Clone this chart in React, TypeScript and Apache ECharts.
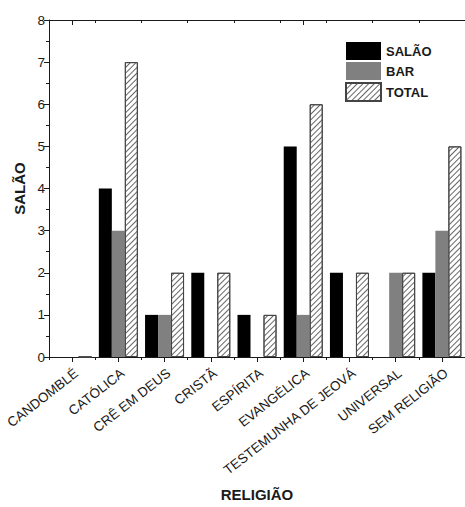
import React, { useEffect, useRef } from "react";
import * as echarts from "echarts";

const categories = [
  "CANDOMBLÉ",
  "CATÓLICA",
  "CRÊ EM DEUS",
  "CRISTÃ",
  "ESPÍRITA",
  "EVANGÉLICA",
  "TESTEMUNHA DE JEOVÁ",
  "UNIVERSAL",
  "SEM RELIGIÃO",
];
const salao = [0, 4, 1, 2, 1, 5, 2, 0, 2];
const bar = [0, 3, 1, 0, 0, 1, 0, 2, 3];
const total = [0, 7, 2, 2, 1, 6, 2, 2, 5];
const yTicks = [0, 1, 2, 3, 4, 5, 6, 7, 8];

const FONT = "'Liberation Sans', Arial, sans-serif";
const INK = "#1a1a1a";

export default function App() {
  const ref = useRef<HTMLDivElement>(null);
  useEffect(() => {
    if (!ref.current) return;
    const chart = echarts.init(ref.current, undefined, { renderer: "svg" });
    const lineStyle = { color: INK, width: 1 };
    chart.setOption({
      animation: false,
      backgroundColor: "#ffffff",
      textStyle: { fontFamily: FONT },
      grid: { left: 49, top: 20, bottom: 149, right: -7, containLabel: false },
      legend: {
        orient: "vertical",
        left: 345,
        top: 42,
        padding: 0,
        itemWidth: 35,
        itemHeight: 18,
        itemGap: 2,
        icon: "rect",
        textStyle: { fontFamily: FONT, fontWeight: "bold", fontSize: 13, color: INK },
        data: ["SALÃO", "BAR", "TOTAL"],
      },
      xAxis: [
        {
          type: "category",
          position: "bottom",
          data: categories,
          boundaryGap: true,
          axisLine: { show: true, lineStyle },
          axisTick: { show: true, alignWithLabel: true, length: 5, lineStyle },
          axisLabel: {
            interval: 0,
            rotate: 38,
            fontSize: 13.5,
            color: INK,
            fontFamily: FONT,
            margin: 9,
            verticalAlign: "top",
          },
          splitLine: { show: false },
          name: "RELIGIÃO",
          nameLocation: "middle",
          nameGap: 130,
          nameTextStyle: { fontFamily: FONT, fontWeight: "bold", fontSize: 15, color: INK },
        },
        {
          type: "value",
          position: "bottom",
          min: 0,
          max: 9,
          interval: 1,
          axisLine: { show: false },
          axisTick: { show: true, length: 3, lineStyle },
          axisLabel: { show: false },
          splitLine: { show: false },
        },
        {
          type: "category",
          position: "top",
          data: categories,
          axisLine: { show: true, lineStyle },
          axisTick: { show: true, inside: true, alignWithLabel: true, length: 5, lineStyle },
          axisLabel: { show: false },
          splitLine: { show: false },
        },
        {
          type: "value",
          position: "top",
          min: 0,
          max: 9,
          interval: 1,
          axisLine: { show: false },
          axisTick: { show: true, inside: true, length: 3, lineStyle },
          axisLabel: { show: false },
          splitLine: { show: false },
        },
      ],
      yAxis: {
        type: "value",
        min: yTicks[0],
        max: yTicks[yTicks.length - 1],
        interval: 1,
        axisLine: { show: true, lineStyle },
        axisTick: { show: true, length: 5, lineStyle },
        minorTick: { show: true, splitNumber: 2, length: 3, lineStyle },
        axisLabel: { fontSize: 13.5, color: INK, fontFamily: FONT, margin: 4 },
        splitLine: { show: false },
        minorSplitLine: { show: false },
        name: "SALÃO",
        nameLocation: "middle",
        nameGap: 22,
        nameTextStyle: { fontFamily: FONT, fontWeight: "bold", fontSize: 15, color: INK },
      },
      series: [
        {
          name: "SALÃO",
          type: "bar",
          xAxisIndex: 0,
          data: salao,
          barWidth: 13,
          barGap: "0%",
          itemStyle: { color: "#000000", borderColor: "#000000", borderWidth: 0 },
        },
        {
          name: "BAR",
          type: "bar",
          xAxisIndex: 0,
          data: bar,
          barWidth: 13,
          barGap: "0%",
          itemStyle: { color: "#808080", borderColor: "#6a6a6a", borderWidth: 0 },
        },
        {
          name: "TOTAL",
          type: "bar",
          xAxisIndex: 0,
          data: total,
          barWidth: 13,
          barGap: "0%",
          itemStyle: {
            color: "#ffffff",
            borderColor: "#444444",
            borderWidth: 1,
            decal: {
              symbol: "rect",
              symbolSize: 1,
              dashArrayX: [1, 0],
              dashArrayY: [1, 3],
              rotation: -Math.PI / 4,
              color: "#666666",
            },
          },
        },
      ],
    });
    return () => chart.dispose();
  }, []);
  return (
    <div
      ref={ref}
      style={{ position: "absolute", left: 0, top: 0, width: 465, height: 507 }}
    />
  );
}
